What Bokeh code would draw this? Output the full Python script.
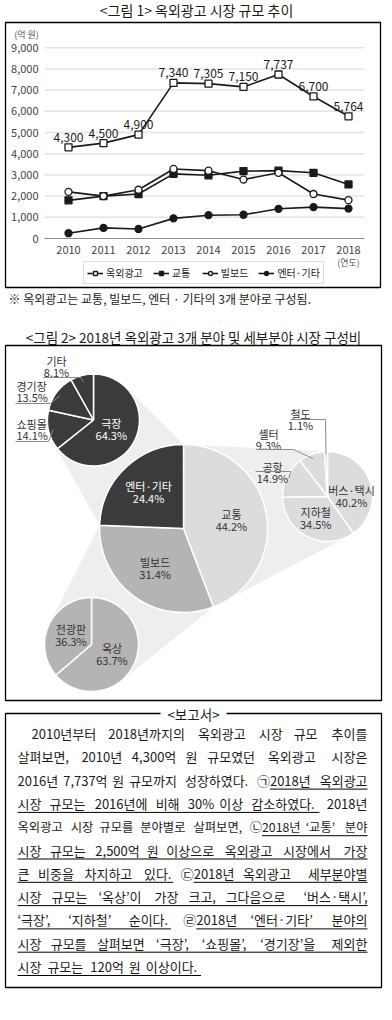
import math
import numpy as np
from bokeh.plotting import figure
from bokeh.models import Range1d, Legend, LegendItem
from bokeh.core.properties import value
from bokeh.embed import file_html
from bokeh.resources import INLINE

# ---------------- data : figure 1 ----------------
years = [2010, 2011, 2012, 2013, 2014, 2015, 2016, 2017, 2018]
total = [4300, 4500, 4900, 7340, 7305, 7150, 7737, 6700, 5764]
transport = [1800, 2000, 2100, 3050, 2980, 3180, 3200, 3100, 2550]
billboard = [2200, 2000, 2300, 3280, 3200, 2780, 3100, 2100, 1810]
entertain = [250, 500, 450, 950, 1100, 1120, 1400, 1480, 1410]
series_names = ["옥외광고", "교통", "빌보드", "엔터·기타"]
y_ticks = [0, 1000, 2000, 3000, 4000, 5000, 6000, 7000, 8000, 9000]

# ---------------- data : figure 2 ----------------
main_labels = ["교통", "빌보드", "엔터·기타"]
main_shares = [44.2, 31.4, 24.4]
ent_labels = ["극장", "쇼핑몰", "경기장", "기타"]
ent_shares = [64.3, 14.1, 13.5, 8.1]
trn_labels = ["버스·택시", "지하철", "공항", "셸터", "철도"]
trn_shares = [40.2, 34.5, 14.9, 9.3, 1.1]
bil_labels = ["옥상", "전광판"]
bil_shares = [63.7, 36.3]

# ---------------- texts ----------------
title1 = "<그림 1> 옥외광고 시장 규모 추이"
note1 = "※ 옥외광고는 교통, 빌보드, 엔터 · 기타의 3개 분야로 구성됨."
title2 = "<그림 2> 2018년 옥외광고 3개 분야 및 세부분야 시장 구성비"
report_title = "<보고서>"
report_lines = [
    "2010년부터 2018년까지의 옥외광고 시장 규모 추이를",
    "살펴보면, 2010년 4,300억 원 규모였던 옥외광고 시장은",
    "2016년 7,737억 원 규모까지 성장하였다. ㉠[2018년 옥외광고]",
    "[시장 규모는 2016년에 비해 30% 이상 감소하였다.] 2018년",
    "옥외광고 시장 규모를 분야별로 살펴보면, ㉡[2018년 ‘교통’ 분야]",
    "[시장 규모는 2,500억 원 이상으로 옥외광고 시장에서 가장]",
    "[큰 비중을 차지하고 있다.] ㉢[2018년 옥외광고 세부분야별]",
    "[시장 규모는 ‘옥상’이 가장 크고, 그다음으로 ‘버스·택시’,]",
    "[‘극장’, ‘지하철’ 순이다.] ㉣[2018년 ‘엔터·기타’ 분야의]",
    "[시장 규모를 살펴보면 ‘극장’, ‘쇼핑몰’, ‘경기장’을 제외한]",
    "[시장 규모는 120억 원 이상이다.]",
]

W, H = 392, 1020
FONT = "Noto Sans CJK KR"
INK = "#1a1a1a"


def sy(y):
    return H - y


p = figure(width=W, height=H, x_range=Range1d(0, W), y_range=Range1d(0, H),
           output_backend="svg", toolbar_location=None, min_border=0,
           x_axis_location=None, y_axis_location=None)
p.grid.grid_line_color = None
p.outline_line_color = None
p.background_fill_color = "white"
p.border_fill_color = "white"


def txt(xs, ys, texts, size="12px", color=INK, align="center", baseline="middle", **kw):
    p.text(x=xs, y=ys, text=texts, text_font=value(FONT), text_font_size=size,
           text_color=color, text_align=align, text_baseline=baseline, **kw)


# =============== FIGURE 1 ===============
txt([196], [sy(9)], [title1], size="14px")
p.quad(left=[5], right=[380], bottom=[sy(287)], top=[sy(22)],
       fill_color=None, line_color="black", line_width=1.3)

# scales of the line chart (layout constants -> ranges)
X_FIRST_PX, PX_PER_YEAR = 68, 35
ZERO_PX, PX_PER_1000 = sy(238), 21.2
xr0 = years[0] - X_FIRST_PX / PX_PER_YEAR
p.extra_x_ranges = {"yr": Range1d(xr0, xr0 + W / PX_PER_YEAR)}
vr0 = -ZERO_PX / PX_PER_1000 * 1000
p.extra_y_ranges = {"val": Range1d(vr0, vr0 + H / PX_PER_1000 * 1000)}

GRID_L, GRID_R = 44, 364
p.segment(x0=GRID_L, x1=GRID_R, y0=y_ticks[1:], y1=y_ticks[1:], y_range_name="val",
          line_color="#e4e4e4", line_width=1.5)
p.segment(x0=GRID_L, x1=GRID_R, y0=y_ticks[:1], y1=y_ticks[:1], y_range_name="val",
          line_color="#8c8c8c", line_width=1)
p.text(x=38, y=y_ticks, text=[f"{t:,}" for t in y_ticks], y_range_name="val",
       text_font=value(FONT), text_font_size="11px", text_color="#444",
       text_align="right", text_baseline="middle")
p.text(x=years, y=sy(249), text=[str(y) for y in years], x_range_name="yr",
       text_font=value(FONT), text_font_size="11px", text_color="#444",
       text_align="center", text_baseline="middle")
txt([years[-1]], [sy(262)], ["(연도)"], size="9px", color="#555", x_range_name="yr")
txt([26], [sy(34)], ["(억 원)"], size="9px", color="#555")

series = [
    (series_names[0], total, "square", "white"),
    (series_names[1], transport, "square", INK),
    (series_names[2], billboard, "circle", "white"),
    (series_names[3], entertain, "circle", INK),
]
items = []
for name, vals, mk, fill in series:
    ln = p.line(years, vals, x_range_name="yr", y_range_name="val",
                line_color=INK, line_width=1.6)
    sc = p.scatter(years, vals, marker=mk, size=7, fill_color=fill, line_color=INK,
                   line_width=1.3, x_range_name="yr", y_range_name="val")
    items.append(LegendItem(label=name, renderers=[ln, sc]))

p.text(x=years, y=total, text=[f"{v:,}" for v in total], x_range_name="yr",
       y_range_name="val", y_offset=-10, text_font=value(FONT), text_font_size="12px",
       text_color=INK, text_align="center", text_baseline="middle")

legend = Legend(items=items, location=(83, sy(284)), orientation="horizontal",
                label_text_font=FONT, label_text_font_size="10px", label_text_color="#222",
                glyph_width=16, glyph_height=10, label_standoff=3, spacing=10,
                padding=3, margin=0, border_line_color="#bdbdbd", border_line_width=1,
                background_fill_color="white", background_fill_alpha=1,
                label_height=10)
p.add_layout(legend)

txt([8], [sy(298)], [note1], size="12px", align="left")

# =============== FIGURE 2 ===============
txt([193], [sy(336)], [title2], size="13.5px")
p.quad(left=[5], right=[381], bottom=[sy(700)], top=[sy(345)],
       fill_color=None, line_color="black", line_width=1.3)

PIES = {  # layout: centre (screen px) and radius
    "main": (183, 528, 84),
    "ent": (93, 419.5, 46),
    "trn": (327, 496, 45),
    "bil": (91, 644, 47),
}
DARK, MID, LIGHT, LINK = "#3b3b3b", "#b4b4b4", "#dcdcdc", "#eeeeee"


def centre(key):
    cx, cy, r = PIES[key]
    return cx, sy(cy), r


def wedge_angles(shares):
    s = np.asarray(shares, float)
    frac = s / s.sum() * 2 * np.pi
    c = np.cumsum(frac)
    return np.pi / 2 - (c - frac), np.pi / 2 - c


def on_circle(key, ang, k=1.0):
    cx, cy, r = centre(key)
    return cx + k * r * math.cos(ang), cy + k * r * math.sin(ang)


def tangent(pt, key, side):
    cx, cy, r = centre(key)
    dx, dy = cx - pt[0], cy - pt[1]
    d = math.hypot(dx, dy)
    ang = math.atan2(dy, dx) + side * math.asin(r / d)
    L = math.sqrt(d * d - r * r)
    return pt[0] + L * math.cos(ang), pt[1] + L * math.sin(ang)


ms, me = wedge_angles(main_shares)
P = on_circle("main", ms[0])
R = on_circle("main", ms[1])
Q = on_circle("main", ms[2])
Cm = centre("main")[:2]
links = [
    [tangent(P, "ent", -1), P, Cm, Q, tangent(Q, "ent", +1), centre("ent")[:2]],
    [tangent(P, "trn", +1), P, Cm, R, tangent(R, "trn", -1), centre("trn")[:2]],
    [tangent(Q, "bil", -1), Q, Cm, R, tangent(R, "bil", +1), centre("bil")[:2]],
]
p.patches(xs=[[a[0] for a in poly] for poly in links],
          ys=[[a[1] for a in poly] for poly in links],
          fill_color=LINK, line_color=None)


def draw_pie(key, shares, colors):
    cx, cy, r = centre(key)
    st, en = wedge_angles(shares)
    p.wedge(x=cx, y=cy, radius=r, start_angle=st, end_angle=en, direction="clock",
            fill_color=colors, line_color="white", line_width=1.5)
    return st, en


def inside_labels(key, labels, shares, idx, k, color, nudge=0):
    st, en = wedge_angles(shares)
    xs, ys, t = [], [], []
    for i in idx:
        mid = (st[i] + en[i]) / 2
        x, y = on_circle(key, mid, k)
        y -= nudge
        xs += [x, x]
        ys += [y + 6, y - 6]
        t += [labels[i], f"{shares[i]}%"]
    txt(xs, ys, t, size="11px", color=color)


draw_pie("main", main_shares, [LIGHT, MID, DARK])
draw_pie("ent", ent_shares, [DARK] * len(ent_shares))
draw_pie("trn", trn_shares, [LIGHT] * len(trn_shares))
draw_pie("bil", bil_shares, [MID] * len(bil_shares))

inside_labels("main", main_labels, main_shares, [0, 1], 0.58, "#333")
inside_labels("main", main_labels, main_shares, [2], 0.6, "white")
inside_labels("ent", ent_labels, ent_shares, [0], 0.43, "white")
inside_labels("trn", trn_labels, trn_shares, [0], 0.56, "#333", nudge=7)
inside_labels("trn", trn_labels, trn_shares, [1], 0.58, "#333", nudge=-2)
inside_labels("bil", bil_labels, bil_shares, [0, 1], 0.48, "#333")

# outside labels with leader lines (label anchor positions are layout)
outside = [
    # key, idx, name xy, align, leader x-span, leader y, leader end k
    ("ent", 3, (56, 360), "center", (43, 80), 377, 0.85),
    ("ent", 2, (16, 385), "left", (15, 50), 403, 0.9),
    ("ent", 1, (16, 423), "left", (15, 48), 441, 0.9),
    ("trn", 3, (268, 433), "center", (257, 293), 449, 0.9),
    ("trn", 2, (272, 466), "center", (255, 290), 471, 0.95),
    ("trn", 4, (300, 413), "center", (290, 325), 419, 0.95),
]
lx, ly = [], []
for key, i, (nx, ny), align, (x0, x1), yl, k in outside:
    labels = ent_labels if key == "ent" else trn_labels
    shares = ent_shares if key == "ent" else trn_shares
    st, en = wedge_angles(shares)
    mid = (st[i] + en[i]) / 2
    ex, ey = on_circle(key, mid, k)
    lx.append([x0, x1, ex])
    ly.append([sy(yl), sy(yl), ey])
    txt([nx, nx], [sy(ny), sy(ny + 11)], [labels[i], f"{shares[i]}%"],
        size="11px", color="#333", align=align)
p.multi_line(xs=lx, ys=ly, line_color="#8a8a8a", line_width=1)

# =============== REPORT ===============
p.multi_line(xs=[[160, 5, 5, 381, 381, 226]],
             ys=[[sy(713), sy(713), sy(987), sy(987), sy(713), sy(713)]],
             line_color="black", line_width=1.3)
txt([193], [sy(713)], [report_title], size="13.5px")

FS = 13.0
MIN_GAP = 4.0
XL, XL_FIRST, XR = 17, 31, 367


def em(ch):
    o = ord(ch)
    if 0xAC00 <= o <= 0xD7A3 or 0x3130 <= o <= 0x318F or 0x3200 <= o <= 0x32FF:
        return 1.0
    if ch.isdigit():
        return 0.555
    if ch in ",.":
        return 0.25
    if ch == "%":
        return 0.84
    if ch in "‘’·":
        return 0.35
    return 0.5


def tokenize(line):
    words, state = [], False
    for w in line.split(" "):
        pieces, buf = [], ""
        for ch in w:
            if ch in "[]":
                if buf:
                    pieces.append((buf, state))
                    buf = ""
                state = ch == "["
            else:
                buf += ch
        if buf:
            pieces.append((buf, state))
        words.append(pieces)
    return words


ul_x, ul_y = [], []
n_lines = len(report_lines)
for i, line in enumerate(report_lines):
    y = sy(733 + 23.3 * i)
    xl = XL_FIRST if i == 0 else XL
    words = tokenize(line)
    ems = [sum(em(c) for t, _ in w for c in t) for w in words]
    justify = i < n_lines - 1
    avail = XR - xl
    fs = FS
    if justify and sum(ems) * fs + MIN_GAP * (len(words) - 1) > avail:
        fs = (avail - MIN_GAP * (len(words) - 1)) / sum(ems)
    wds = [e * fs for e in ems]
    gap = (avail - sum(wds)) / (len(words) - 1) if justify else fs * 0.3
    x = xl
    run = None
    lxs, lys, ltx, rxs, rys, rtx = [], [], [], [], [], []
    for j, (w, wd) in enumerate(zip(words, wds)):
        last = justify and j == len(words) - 1
        word = "".join(t for t, _ in w)
        if last:
            x = XR - wd
            rxs.append(XR); rys.append(y); rtx.append(word)
        else:
            lxs.append(x); lys.append(y); ltx.append(word)
        px = x
        for t, u in w:
            pw = sum(em(c) for c in t) * fs
            if u:
                if run is None:
                    run = [px, px + pw]
                run[1] = px + pw
            elif run is not None:
                ul_x.append(run); ul_y.append(y); run = None
            px += pw
        x += wd + gap
    if run is not None:
        ul_x.append(run); ul_y.append(y)
    if ltx:
        txt(lxs, lys, ltx, size=f"{fs:.2f}px", align="left")
    if rtx:
        txt(rxs, rys, rtx, size=f"{fs:.2f}px", align="right")

p.segment(x0=[a[0] for a in ul_x], x1=[a[1] for a in ul_x],
          y0=[v - 9 for v in ul_y], y1=[v - 9 for v in ul_y],
          line_color="black", line_width=1)

open("out.html", "w").write(file_html(p, INLINE))
